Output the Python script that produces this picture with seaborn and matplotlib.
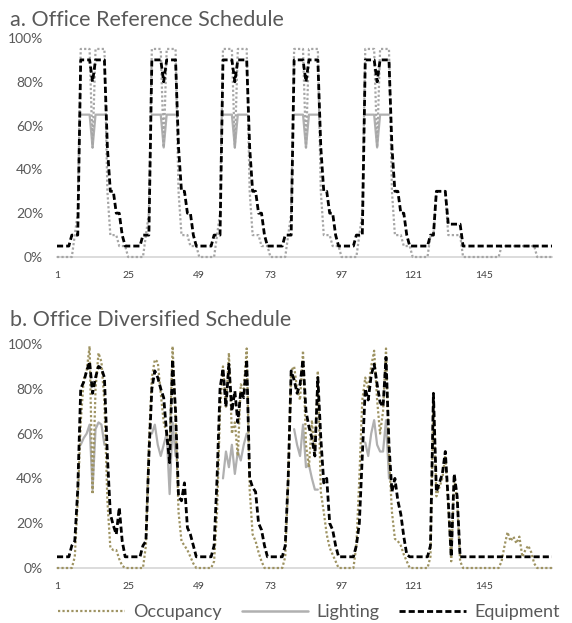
import numpy as np
import pandas as pd
import matplotlib
matplotlib.use("Agg")
import matplotlib.pyplot as plt
from matplotlib.lines import Line2D
import seaborn as sns

sns.set_style("white")
plt.rcParams["font.family"] = ["Lato", "DejaVu Sans"]

NA = np.nan

# ---------------------------------------------------------------- data
HOURS = list(range(1, 169))
X_TICKS = [1, 25, 49, 73, 97, 121, 145]
X_TICK_LABELS = ["1", "25", "49", "73", "97", "121", "145"]
Y_TICKS = [0, 20, 40, 60, 80, 100]
Y_TICK_LABELS = ["0%", "20%", "40%", "60%", "80%", "100%"]

# a. reference schedule: weekday / Saturday / Sunday profiles (% of peak)
ref_occ_weekday = [0, 0, 0, 0, 0, 0, 10, 20, 95, 95, 95, 95, 50, 95, 95, 95, 95, 30, 10, 10, 10, 5, 5, 5]
ref_occ_saturday = [0, 0, 0, 0, 0, 0, 10, 10, 30, 30, 30, 30, 10, 10, 10, 10, 10, 0, 0, 0, 0, 0, 0, 0]
ref_occ_sunday = [0, 0, 0, 0, 0, 0, 5, 5, 5, 5, 5, 5, 5, 5, 5, 5, 5, 5, 0, 0, 0, 0, 0, 0]

# lighting is only reported for office hours (9-17)
ref_light_weekday = [NA, NA, NA, NA, NA, NA, NA, NA, 65, 65, 65, 65, 50, 65, 65, 65, 65,
                     NA, NA, NA, NA, NA, NA, NA]
ref_light_saturday = [NA] * 24
ref_light_sunday = [NA] * 24

ref_equip_weekday = [5, 5, 5, 5, 5, 10, 10, 10, 90, 90, 90, 90, 80, 90, 90, 90, 90, 50, 30, 30, 20, 20, 10, 5]
ref_equip_saturday = [5, 5, 5, 5, 5, 5, 10, 10, 30, 30, 30, 30, 15, 15, 15, 15, 15, 5, 5, 5, 5, 5, 5, 5]
ref_equip_sunday = [5] * 24

ref_occupancy = ref_occ_weekday * 5 + ref_occ_saturday + ref_occ_sunday
ref_lighting = ref_light_weekday * 5 + ref_light_saturday + ref_light_sunday
ref_equipment = ref_equip_weekday * 5 + ref_equip_saturday + ref_equip_sunday

# b. diversified schedule, one row per day (Mon..Sun)
div_occupancy = [
    0, 0, 0, 0, 0, 0, 5, 30, 65, 84, 88, 99, 33, 80, 96, 92, 74, 30, 9, 8, 8, 4, 1, 0,
    0, 0, 0, 0, 0, 0, 10, 55, 85, 93, 92, 78, 65, 60, 55, 99, 67, 25, 12, 10, 8, 5, 2, 0,
    0, 0, 0, 0, 0, 3, 25, 70, 90, 72, 96, 60, 65, 50, 82, 80, 98, 35, 15, 12, 7, 3, 0, 0,
    0, 0, 0, 0, 0, 5, 40, 88, 90, 80, 75, 97, 55, 45, 66, 50, 88, 34, 25, 15, 9, 6, 3, 0,
    0, 0, 0, 0, 0, 10, 40, 75, 85, 80, 90, 97, 75, 60, 70, 98, 50, 25, 13, 12, 10, 6, 3, 0,
    0, 0, 0, 0, 0, 0, 5, 75, 32, 36, 40, 50, 28, 3, 40, 30, 3, 0, 0, 0, 0, 0, 0, 0,
    0, 0, 0, 0, 0, 0, 3, 10, 16, 12, 14, 11, 14, 5, 8, 10, 7, 2, 0, 0, 0, 0, 0, 0,
]
div_lighting = [
    NA, NA, NA, NA, NA, NA, NA, NA, 55, 58, 60, 64, 35, 62, 65, 64, 55, NA, NA, NA, NA, NA, NA, NA,
    NA, NA, NA, NA, NA, NA, NA, NA, 60, 64, 55, 50, 55, 60, 33, 65, 50, NA, NA, NA, NA, NA, NA, NA,
    NA, NA, NA, NA, NA, NA, NA, NA, 40, 52, 45, 55, 42, 52, 48, 55, 60, NA, NA, NA, NA, NA, NA, NA,
    NA, NA, NA, NA, NA, NA, NA, NA, 62, 55, 50, 64, 45, 46, 40, 35, 35, NA, NA, NA, NA, NA, NA, NA,
    NA, NA, NA, NA, NA, NA, NA, NA, 56, 50, 60, 66, 55, 52, 52, 66, 40, NA, NA, NA, NA, NA, NA, NA,
    NA, NA, NA, NA, NA, NA, NA, NA, NA, NA, NA, NA, NA, NA, NA, NA, NA, NA, NA, NA, NA, NA, NA, NA,
    NA, NA, NA, NA, NA, NA, NA, NA, NA, NA, NA, NA, NA, NA, NA, NA, NA, NA, NA, NA, NA, NA, NA, NA,
]
div_equipment = [
    5, 5, 5, 5, 5, 10, 12, 35, 80, 83, 88, 92, 78, 85, 90, 89, 85, 50, 24, 19, 15, 27, 12, 5,
    5, 5, 5, 5, 5, 10, 12, 50, 80, 88, 85, 80, 76, 60, 47, 93, 70, 32, 30, 38, 18, 15, 10, 5,
    5, 5, 5, 5, 5, 10, 40, 80, 89, 72, 91, 70, 79, 65, 79, 76, 93, 40, 36, 34, 20, 17, 10, 5,
    5, 5, 5, 5, 5, 10, 40, 88, 84, 78, 82, 93, 70, 63, 58, 50, 85, 58, 38, 40, 20, 17, 10, 5,
    5, 5, 5, 5, 5, 10, 20, 50, 80, 75, 86, 91, 82, 74, 72, 94, 55, 34, 40, 30, 24, 14, 6, 5,
    5, 5, 5, 5, 5, 5, 10, 78, 34, 38, 42, 52, 30, 5, 42, 32, 5, 5, 5, 5, 5, 5, 5, 5,
    5, 5, 5, 5, 5, 5, 5, 5, 5, 5, 5, 5, 5, 5, 5, 5, 5, 5, 5, 5, 5, 5, 5, 5,
]

# ---------------------------------------------------------------- styles
TEXT_GREY = "#595959"
OCC_GREY = "#A6A6A6"
OCC_OLIVE = "#9E9362"
LIGHT_GREY = "#B0B0B0"
AXIS_GREY = "#D9D9D9"

OCC_LS = (0, (1.0, 1.0))
EQUIP_LS = (0, (2.2, 1.1))

W, H = 572, 623
fig = plt.figure(figsize=(W / 100, H / 100), dpi=100)
fig.patch.set_facecolor("white")


def make_axes(top_px, bottom_px):
    return fig.add_axes([57 / W, 1 - bottom_px / H, (552 - 57) / W, (bottom_px - top_px) / H])


def series_frame(values):
    """Long frame for one series; gaps (NaN) split the line into separate runs."""
    vals = np.asarray(values, dtype=float)
    frame = pd.DataFrame({"hour": HOURS, "value": vals, "run": np.cumsum(np.isnan(vals))})
    return frame.dropna()


def draw_panel(ax, occ, light, equip, occ_color):
    sns.lineplot(data=series_frame(occ), x="hour", y="value", units="run", estimator=None,
                 ax=ax, color=occ_color, linewidth=1.6, linestyle=OCC_LS,
                 clip_on=False, zorder=3, legend=False)
    sns.lineplot(data=series_frame(light), x="hour", y="value", units="run", estimator=None,
                 ax=ax, color=LIGHT_GREY, linewidth=1.6, clip_on=False, zorder=2, legend=False)
    sns.lineplot(data=series_frame(equip), x="hour", y="value", units="run", estimator=None,
                 ax=ax, color="black", linewidth=2.0, linestyle=EQUIP_LS,
                 clip_on=False, zorder=4, legend=False)
    ax.set_xlim(1, 168)
    ax.set_ylim(0, 100)
    ax.set_xticks(X_TICKS)
    ax.set_xticklabels(X_TICK_LABELS)
    ax.set_yticks(Y_TICKS)
    ax.set_yticklabels(Y_TICK_LABELS)
    ax.set_xlabel("")
    ax.set_ylabel("")
    for side in ("top", "right", "left"):
        ax.spines[side].set_visible(False)
    ax.spines["bottom"].set_color(AXIS_GREY)
    ax.spines["bottom"].set_linewidth(1.3)
    ax.spines["bottom"].set_zorder(1)
    ax.tick_params(axis="y", length=0, pad=10, labelsize=10, labelcolor=TEXT_GREY)
    ax.tick_params(axis="x", length=0, pad=10, labelsize=7.5, labelcolor="#404040")
    ax.grid(False)
    ax.set_facecolor("none")


ax_a = make_axes(38, 257)
draw_panel(ax_a, ref_occupancy, ref_lighting, ref_equipment, OCC_GREY)
ax_b = make_axes(344, 568)
draw_panel(ax_b, div_occupancy, div_lighting, div_equipment, OCC_OLIVE)

fig.text(10 / W, 1 - 20 / H, "a. Office Reference Schedule", ha="left", va="center",
         fontsize=15.5, color=TEXT_GREY)
fig.text(10 / W, 1 - 320 / H, "b. Office Diversified Schedule", ha="left", va="center",
         fontsize=15.5, color=TEXT_GREY)

handles = [
    Line2D([], [], color=OCC_OLIVE, linewidth=1.6, linestyle=OCC_LS),
    Line2D([], [], color=LIGHT_GREY, linewidth=1.8),
    Line2D([], [], color="black", linewidth=2.0, linestyle=EQUIP_LS),
]
leg = fig.legend(handles, ["Occupancy", "Lighting", "Equipment"], loc="center",
                 bbox_to_anchor=(309 / W, 1 - 612 / H), ncol=3, frameon=False,
                 fontsize=13, handlelength=3.7, handletextpad=0.45, columnspacing=1.1)
for t in leg.get_texts():
    t.set_color(TEXT_GREY)

fig.savefig("out.png", dpi=100, facecolor="white")
